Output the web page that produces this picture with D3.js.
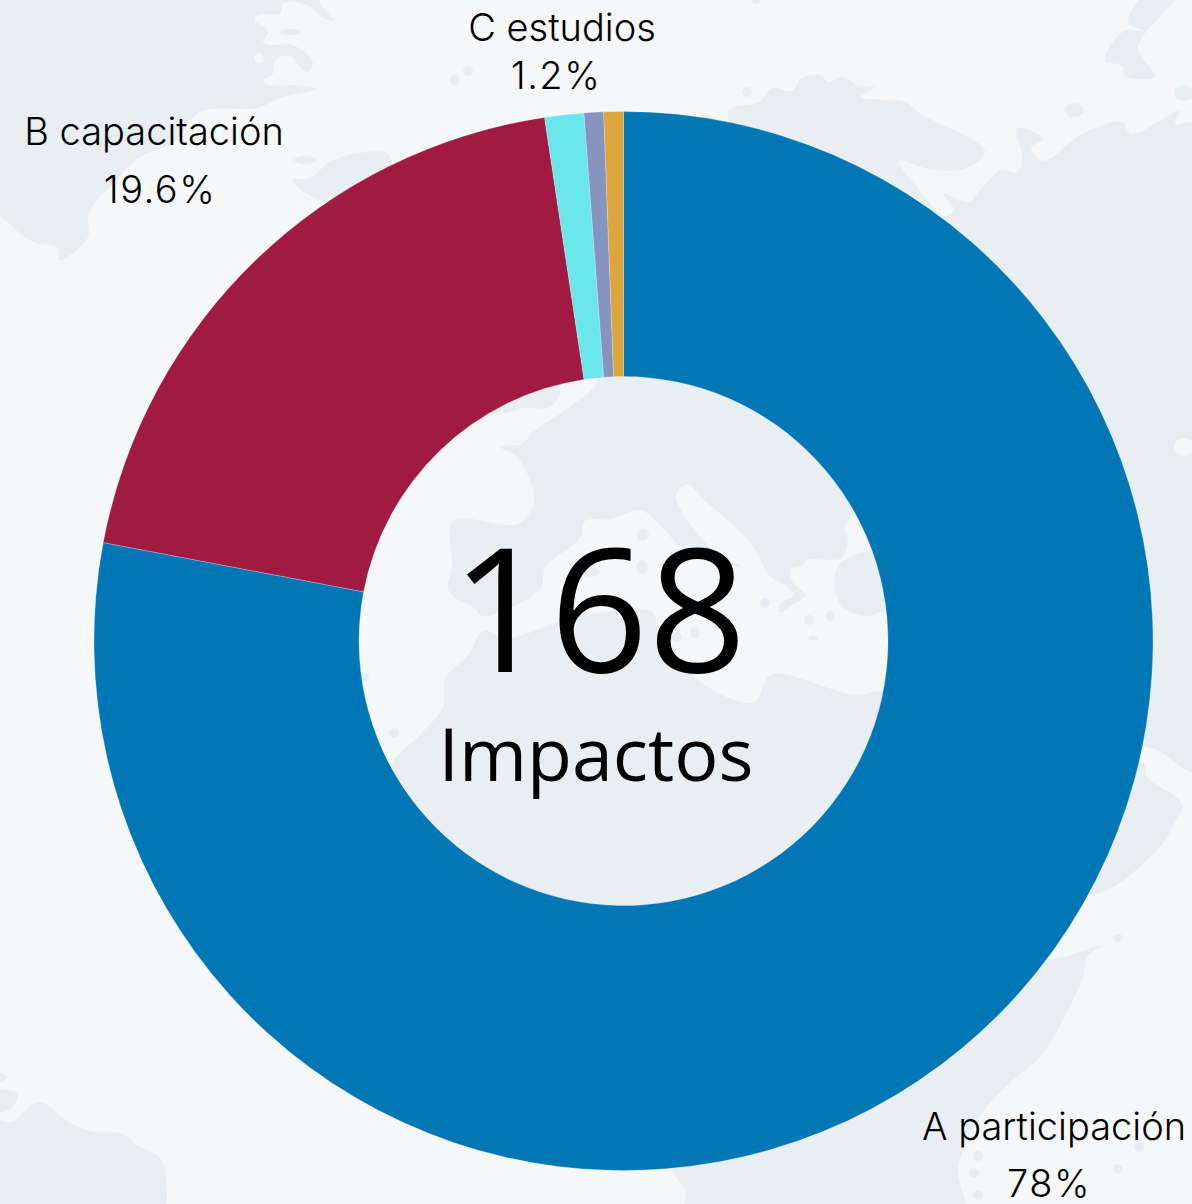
<!DOCTYPE html>
<html>
<head>
<meta charset="utf-8">
<script src="https://cdn.jsdelivr.net/npm/d3@7"></script>
<style>
  html, body { margin: 0; padding: 0; background: #f5f7f9; }
  svg { display: block; }
</style>
</head>
<body>
<script>
// chart data
const categories = ['A participación', 'B capacitación', 'C estudios', 'D', 'E'];
const impacts = [131, 33, 2, 1, 1];
const colors = ['#0277b6', '#a01a42', '#6be6ea', '#8794bd', '#dca63c'];
const shownLabels = ['A participación', 'B capacitación', 'C estudios'];
const shownPercents = ['78%', '19.6%', '1.2%'];
const totalText = '168';
const totalLabel = 'Impactos';

// label anchors, [centre x, name baseline, percent centre x, percent baseline]
const labelPos = [
  [1054, 1140, 1049, 1197],
  [154, 145, 160, 203],
  [562, 41, 556, 89],
];

// background map, traced by eye
const eurasia = [[729,131],[729,110],[759,102],[773,88],[792,91],[802,78],[821,75],[828,82],[843,77],[857,85],[874,87],[861,97],[905,102],[919,113],[985,151],[967,168],[934,170],[899,161],[916,186],[945,216],[954,210],[943,193],[969,202],[980,190],[1000,171],[1018,172],[1022,157],[1017,128],[1043,139],[1031,148],[1043,161],[1084,133],[1122,122],[1131,134],[1180,111],[1175,124],[1200,124],[1210,400],[1200,772],[1157,750],[1143,746],[1050,700],[940,640],[887,612],[866,616],[841,605],[836,570],[855,554],[869,552],[895,553],[900,520],[860,505],[855,510],[845,528],[848,542],[841,558],[806,560],[802,566],[791,569],[792,581],[805,595],[794,604],[780,612],[781,603],[794,595],[785,586],[768,574],[755,549],[736,528],[704,500],[687,484],[676,496],[701,538],[722,556],[740,566],[708,561],[683,549],[659,524],[641,510],[624,514],[610,519],[585,521],[580,538],[545,568],[541,588],[508,609],[483,616],[473,607],[455,598],[448,588],[452,566],[453,521],[518,524],[534,500],[518,458],[501,447],[522,444],[532,433],[568,408],[596,384],[625,300]];
const africa = [[392,767],[420,735],[443,707],[445,679],[469,654],[483,631],[508,638],[578,616],[652,612],[659,626],[701,682],[746,703],[757,700],[771,675],[855,695],[885,691],[960,720],[1000,900],[1040,958],[1100,946],[1087,957],[1083,977],[1063,1020],[1040,1057],[1013,1080],[990,1103],[973,1127],[958,1170],[963,1215],[688,1215],[685,1190],[675,1175],[600,1000],[450,850]];
const arabia = [[1143,762],[1148,778],[1182,804],[1173,825],[1160,847],[1090,894],[1040,830],[1100,760]];
const britain = [[494,414],[525,408],[546,408],[557,400],[560,387],[540,370],[480,400]];
const northAmerica = [[-10,-10],[320,-10],[320,3],[333,20],[323,18],[307,5],[283,3],[280,13],[257,15],[255,20],[268,32],[263,42],[270,45],[293,45],[313,63],[307,72],[298,65],[293,57],[277,58],[272,75],[263,80],[268,85],[293,85],[317,89],[283,97],[257,108],[200,112],[173,143],[140,157],[110,187],[97,200],[88,217],[88,237],[60,260],[58,248],[33,242],[13,227],[-10,200]];
const arctic = [[292,180],[310,178],[333,160],[387,153],[392,165],[400,200],[320,200]];
const southAmerica = [[-10,1122],[13,1122],[25,1110],[40,1102],[70,1123],[90,1131],[123,1134],[137,1145],[160,1158],[166,1177],[160,1215],[-10,1215]];
const caribbean = [[[-10,1093],[17,1093],[12,1108],[-10,1112]], [[-10,1068],[7,1078],[-10,1082]]];
const japan = [[1176,-5],[1138,47],[1155,77],[1124,75],[1123,66],[1105,60],[1124,31],[1144,31],[1129,24],[1129,16],[1146,-5]];
const islands = [[1074,110,10,7],[1184,93,10,8],[747,92,5,5],[708,120,5,5],[756,0,4,4],[643,535,6,6],[642,567,6,7],[590,572,10,5],[765,603,5,5],[809,620,5,5],[830,616,5,5],[813,638,5,2],[677,637,5,5],[695,633,5,5],[364,677,5,5],[394,733,5,5],[468,71,5,5],[455,80,5,5],[1118,938,5,4],[1139,1147,5,5],[1118,1169,5,5],[978,1156,5,5],[974,1173,5,5],[978,1195,5,5],[290,32,11,3],[305,160,11,4]];
const lakes = [[259,58,5,5],[1184,447,10,9]];

const width = 1192, height = 1204;
const landColor = '#e9eef2', seaColor = '#f5f7f9';

const svg = d3.select('body').append('svg')
  .attr('width', width).attr('height', height);

svg.append('rect').attr('width', width).attr('height', height).attr('fill', seaColor);

// map
const blob = d3.line().curve(d3.curveCatmullRomClosed.alpha(0.5));
const map = svg.append('g');
map.selectAll('path')
  .data([eurasia, africa, arabia, britain, northAmerica, arctic, southAmerica, ...caribbean, japan])
  .join('path')
  .attr('d', blob)
  .attr('fill', landColor);
map.selectAll('ellipse.island')
  .data(islands)
  .join('ellipse')
  .attr('class', 'island')
  .attr('cx', d => d[0]).attr('cy', d => d[1])
  .attr('rx', d => d[2]).attr('ry', d => d[3])
  .attr('fill', landColor);
map.selectAll('ellipse.lake')
  .data(lakes)
  .join('ellipse')
  .attr('class', 'lake')
  .attr('cx', d => d[0]).attr('cy', d => d[1])
  .attr('rx', d => d[2]).attr('ry', d => d[3])
  .attr('fill', seaColor);

// donut
const pie = d3.pie().sort(null).startAngle(0).endAngle(2 * Math.PI);
const arc = d3.arc().innerRadius(264.5).outerRadius(529.5);
const color = d3.scaleOrdinal().domain(categories).range(colors);

svg.append('g')
  .attr('transform', 'translate(623.5,641)')
  .selectAll('path')
  .data(pie(impacts))
  .join('path')
  .attr('d', arc)
  .attr('fill', (d, i) => color(categories[i]))
  .attr('stroke', seaColor)
  .attr('stroke-width', 0.25);

// centre text
svg.append('text')
  .attr('x', 599).attr('y', 672)
  .attr('text-anchor', 'middle')
  .attr('font-family', '"Open Sans"')
  .attr('font-size', 172)
  .attr('fill', '#000')
  .text(totalText);
svg.append('text')
  .attr('x', 596).attr('y', 781)
  .attr('text-anchor', 'middle')
  .attr('font-family', '"Open Sans"')
  .attr('font-size', 73.5)
  .attr('fill', '#000')
  .text(totalLabel);

// slice labels
const labels = svg.append('g')
  .attr('font-family', 'Inter')
  .attr('font-weight', 300)
  .attr('font-size', 38)
  .attr('fill', '#000')
  .attr('text-anchor', 'middle');
labels.selectAll('text.name')
  .data(shownLabels)
  .join('text')
  .attr('class', 'name')
  .attr('x', (d, i) => labelPos[i][0])
  .attr('y', (d, i) => labelPos[i][1])
  .text(d => d);
labels.selectAll('text.pct')
  .data(shownPercents)
  .join('text')
  .attr('class', 'pct')
  .attr('letter-spacing', 1.5)
  .attr('x', (d, i) => labelPos[i][2])
  .attr('y', (d, i) => labelPos[i][3])
  .text(d => d);
</script>
</body>
</html>
